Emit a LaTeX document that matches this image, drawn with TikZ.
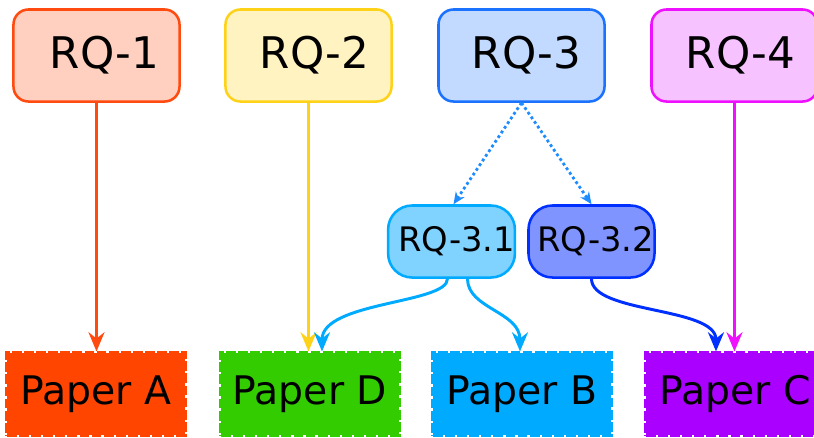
\documentclass[tikz,border=0pt]{standalone}
\usepackage{fontspec}
\setmainfont{DejaVu Sans}
\usetikzlibrary{arrows.meta}

\definecolor{rqAfill}{HTML}{FFD0C0}
\definecolor{rqAline}{HTML}{FF4A10}
\definecolor{rqBfill}{HTML}{FFF3C2}
\definecolor{rqBline}{HTML}{FFD21A}
\definecolor{rqCfill}{HTML}{C2DAFF}
\definecolor{rqCline}{HTML}{1A72FF}
\definecolor{rqDfill}{HTML}{F6C2FF}
\definecolor{rqDline}{HTML}{EE10FF}
\definecolor{subAfill}{HTML}{80D2FF}
\definecolor{subAline}{HTML}{00AAFF}
\definecolor{subBfill}{HTML}{8094FF}
\definecolor{subBline}{HTML}{0030FF}
\definecolor{dotline}{HTML}{1E8CFF}
\definecolor{papA}{HTML}{FF4500}
\definecolor{papB}{HTML}{00AAFF}
\definecolor{papC}{HTML}{AA00FF}
\definecolor{papD}{HTML}{33CC00}

\begin{document}
\begin{tikzpicture}[x=0.025cm, y=-0.025cm,
    rq/.style = {draw, rounded corners=0.375cm, line width=1.8pt, minimum width=4.15cm, minimum height=2.3cm, inner sep=0pt, font=\fontsize{31}{37}\selectfont},
    sub/.style = {draw, rounded corners=0.6cm, line width=1.8pt, minimum width=3.15cm, minimum height=1.8cm, inner sep=0pt, font=\fontsize{24}{29}\selectfont},
    paper/.style = {draw=#1, fill=#1, line width=2.2pt, dash pattern=on 7pt off 1.6pt, minimum width=4.45cm, minimum height=2.05cm, inner sep=0pt, font=\fontsize{28}{33}\selectfont},
    link/.style = {line width=2.1pt, -{Stealth[length=0.48cm, width=0.4cm]}},
    dots/.style = {line width=2pt, dotted, -{Stealth[length=0.3cm, width=0.26cm]}}]
        \useasboundingbox (0,0) rectangle (814,437);
        \node[rq, fill=rqAfill, draw=rqAline] (rq1) at (96.5,55.5) {\hspace{0.4cm}RQ-1};
        \node[rq, fill=rqBfill, draw=rqBline] (rq2) at (308.5,55.5) {\hspace{0.3cm}RQ-2};
        \node[rq, fill=rqCfill, draw=rqCline] (rq3) at (521.5,55.5) {\hspace{0.25cm}RQ-3};
        \node[rq, fill=rqDfill, draw=rqDline] (rq4) at (734.5,55.5) {\hspace{0.3cm}RQ-4};
        \node[sub, fill=subAfill, draw=subAline] (rq31) at (451.5,241.5) {\hspace{0.25cm}RQ-3.1};
        \node[sub, fill=subBfill, draw=subBline] (rq32) at (591.5,241.5) {\hspace{0.2cm}RQ-3.2};
        \node[paper=papA] (pa) at (96,394) {Paper A};
        \node[paper=papD] (pd) at (310,394) {Paper D};
        \node[paper=papB] (pb) at (522,394) {Paper B};
        \node[paper=papC] (pc) at (735,394) {Paper C};
        %% Arrows
        \draw[link, rqAline] (rq1.south) -- (rq1.south |- pa.north);
        \draw[link, rqBline] (rq2.south) -- (rq2.south |- pd.north);
        \draw[link, rqDline] (rq4.south) -- (rq4.south |- pc.north);
        \draw[dots, dotline] (rq3.south) -- ([xshift=0.05cm]rq31.north);
        \draw[dots, dotline] (rq3.south) -- (rq32.north);
        \draw[link, subAline] ([xshift=-0.1cm]rq31.south) .. controls +(0,25) and +(0,-50) .. ([xshift=0.3cm]pd.north);
        \draw[link, subAline] ([xshift=0.4cm]rq31.south) .. controls +(0,30) and +(0,-40) .. ([xshift=-0.05cm]pb.north);
        \draw[link, subBline] (rq32.south) .. controls +(0,35) and +(0,-45) .. ([xshift=-0.475cm]pc.north);
\end{tikzpicture}
\end{document}
